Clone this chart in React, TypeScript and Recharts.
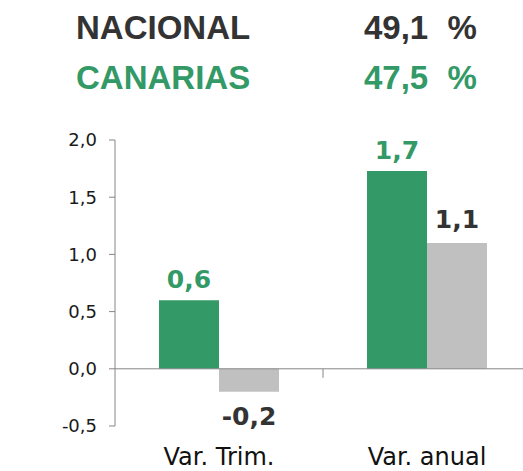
import React from 'react';
import { BarChart, Bar, XAxis, YAxis, ReferenceLine, LabelList } from 'recharts';

const categories = ['Var. Trim.', 'Var. anual'];
const canarias = [0.6, 1.73];
const nacional = [-0.2, 1.1];
const yTicks = [-0.5, 0, 0.5, 1, 1.5, 2];

const headerRows = [
  { name: 'NACIONAL', value: '49,1 %', color: '#333333' },
  { name: 'CANARIAS', value: '47,5 %', color: '#339966' },
];

const GREEN = '#339966';
const GRAY = '#c0c0c0';
const AXIS = '#868686';

const data = categories.map((c, i) => ({ name: c, canarias: canarias[i], nacional: nacional[i] }));

const fmt = (v: number) => v.toFixed(1).replace('.', ',');

const makeLabel = (color: string, gap: number) => (props: any) => {
  const { x, y, width, height, value } = props;
  const top = Math.min(y, y + height);
  const bottom = Math.max(y, y + height);
  const cx = x + width / 2;
  const ty = value >= 0 ? top - gap : bottom + 15 + 18;
  return (
    <text x={cx} y={ty} textAnchor="middle" fill={color} fontSize={25} fontWeight="bold" fontFamily="DejaVu Sans">
      {fmt(value)}
    </text>
  );
};

// zero line across the plot plus the category divider tick
const ZeroLine = (props: any) => {
  const { x1, x2, y1 } = props;
  const mid = (x1 + x2) / 2;
  return (
    <g>
      <line x1={x1} x2={x2} y1={y1} y2={y1} stroke={AXIS} strokeWidth={1} />
      <line x1={mid} x2={mid} y1={y1} y2={y1 + 9} stroke={AXIS} strokeWidth={1} />
    </g>
  );
};

export default function App() {
  return (
    <div style={{ position: 'absolute', left: 0, top: 0, width: 523, height: 471, overflow: 'hidden', background: '#fff' }}>
      {headerRows.map((r, i) => (
        <React.Fragment key={r.name}>
          <div
            style={{
              position: 'absolute', left: 76, top: 11 + i * 50, fontFamily: 'Liberation Sans', fontWeight: 'bold',
              fontSize: 33, lineHeight: 1, color: r.color, whiteSpace: 'pre',
            }}
          >
            {r.name}
          </div>
          <div
            style={{
              position: 'absolute', left: 364, top: 11 + i * 50, fontFamily: 'Liberation Sans', fontWeight: 'bold',
              fontSize: 33, lineHeight: 1, color: r.color, whiteSpace: 'pre', wordSpacing: 10,
            }}
          >
            {r.value}
          </div>
        </React.Fragment>
      ))}
      <div style={{ position: 'absolute', left: 0, top: 0 }}>
        <BarChart
          width={540}
          height={471}
          data={data}
          margin={{ top: 140, right: 9, bottom: 0, left: 55 }}
          barSize={60}
          barGap={0}
          style={{ fontFamily: 'DejaVu Sans' }}
        >
          <XAxis
            dataKey="name"
            axisLine={false}
            tickLine={false}
            tickSize={0}
            tickMargin={22}
            height={45}
            interval={0}
            tick={{ fill: '#111111', fontSize: 24, fontFamily: 'DejaVu Sans' }}
          />
          <YAxis
            width={60}
            domain={[-0.5, 2]}
            ticks={yTicks}
            interval={0}
            tickFormatter={fmt}
            axisLine={{ stroke: AXIS }}
            tickLine={{ stroke: AXIS }}
            tickSize={6}
            tickMargin={12}
            tick={{ fill: '#1a1a1a', fontSize: 18, fontFamily: 'DejaVu Sans' }}
          />
          <ReferenceLine y={0} shape={ZeroLine} />
          <Bar dataKey="canarias" fill={GREEN} isAnimationActive={false}>
            <LabelList dataKey="canarias" content={makeLabel(GREEN, 12)} />
          </Bar>
          <Bar dataKey="nacional" fill={GRAY} isAnimationActive={false}>
            <LabelList dataKey="nacional" content={makeLabel('#333333', 15)} />
          </Bar>
        </BarChart>
      </div>
    </div>
  );
}
